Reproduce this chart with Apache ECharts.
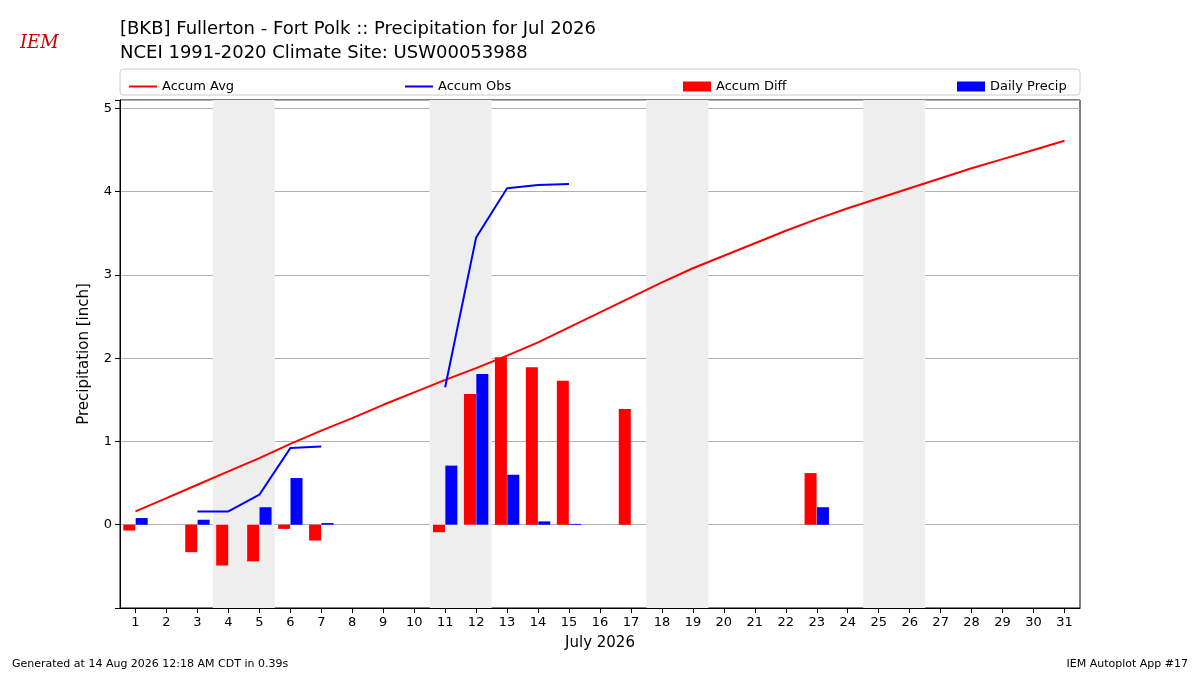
<!DOCTYPE html>
<html lang="en">
<head>
<meta charset="UTF-8">
<title>Precipitation</title>
<script src="https://cdn.jsdelivr.net/npm/echarts@6/dist/echarts.min.js"></script>
<style>body{margin:0;background:#fff}</style>
</head>
<body>
<div id="main" style="width:1200px;height:675px;"></div>
<script>
var days = [];
for (var i = 1; i <= 31; i++) days.push(i);
var accumAvg = [0.16,0.32,0.48,0.64,0.80,0.97,1.13,1.28,1.44,1.59,1.74,1.88,2.03,2.19,2.37,2.55,2.73,2.91,3.08,3.23,3.38,3.53,3.67,3.80,3.92,4.04,4.16,4.28,4.39,4.50,4.61];
var accumObs = [null,null,0.16,0.16,0.36,0.92,0.94,null,null,null,1.65,3.45,4.04,4.08,4.09];
var accumDiff = [-0.07,null,-0.33,-0.49,-0.44,-0.05,-0.19,null,null,null,-0.09,1.57,2.01,1.89,1.73,null,1.39,null,null,null,null,null,0.62];
var dailyPrecip = [0.08,null,0.06,null,0.21,0.56,0.02,null,null,null,0.71,1.81,0.60,0.04,0.01,null,null,null,null,null,null,null,0.21];
var weekends = [[3.5,5.5],[10.5,12.5],[17.5,19.5],[24.5,26.5]];

function pairs(arr, shift) {
    var out = [];
    arr.forEach(function (v, i) { if (v !== null) out.push([days[i] + shift, v]); });
    return out;
}
function linePairs(arr) {
    return arr.map(function (v, i) { return [days[i], v]; });
}

var chart = echarts.init(document.getElementById('main'));
var font = 'DejaVu Sans';
var lineIcon = 'path://M0,0 L28,0 L28,2 L0,2 Z';
function leg(name, left, icon) {
    return {data: [{name: name, icon: icon}], left: left, top: 75, itemWidth: 28, itemHeight: icon === 'rect' ? 10 : 2, itemGap: 6,
        textStyle: {fontFamily: font, fontSize: 13, color: '#000'}, selectedMode: false};
}
chart.setOption({
    animation: false,
    textStyle: {fontFamily: font},
    title: {text: '[BKB] Fullerton - Fort Polk :: Precipitation for Jul 2026\nNCEI 1991-2020 Climate Site: USW00053988',
        left: 115, top: 12, textStyle: {fontFamily: font, fontSize: 18, fontWeight: 'normal', color: '#000', lineHeight: 24}},
    legend: [leg('Accum Avg', 124, lineIcon), leg('Accum Obs', 400, lineIcon), leg('Accum Diff', 678, 'rect'), leg('Daily Precip', 952, 'rect')],
    graphic: [
        {type: 'rect', shape: {x: 120, y: 69, width: 960, height: 26, r: 3}, style: {fill: 'none', stroke: '#ccc'}},
        {type: 'text', left: 20, top: 34, style: {text: 'IEM', font: 'italic 18px "DejaVu Serif"', fill: '#c00'}},
        {type: 'text', left: 12, top: 659, style: {text: 'Generated at 14 Aug 2026 12:18 AM CDT in 0.39s', font: '11px "DejaVu Sans"', fill: '#000'}},
        {type: 'text', right: 12, top: 659, style: {text: 'IEM Autoplot App #17', font: '11px "DejaVu Sans"', fill: '#000'}}
    ],
    grid: {left: 120, right: 120, top: 100, bottom: 67, show: true, borderColor: '#000', borderWidth: 1},
    xAxis: {type: 'value', min: 0.5, max: 31.5,
        name: 'July 2026', nameLocation: 'middle', nameGap: 28, nameTextStyle: {fontSize: 15, color: '#000'},
        axisLine: {onZero: false, lineStyle: {color: '#000'}},
        axisTick: {customValues: days, lineStyle: {color: '#000'}},
        axisLabel: {customValues: days, color: '#000', fontSize: 13},
        splitLine: {show: false}},
    yAxis: {type: 'value', min: -1, max: 5.1, interval: 1,
        name: 'Precipitation [inch]', nameLocation: 'middle', nameGap: 28, nameTextStyle: {fontSize: 15, color: '#000'},
        axisLine: {show: true, lineStyle: {color: '#000'}}, axisTick: {show: true, lineStyle: {color: '#000'}},
        axisLabel: {color: '#000', fontSize: 13, formatter: function (v) { return v < 0 || v > 5 ? '' : v; }},
        splitLine: {lineStyle: {color: '#b0b0b0'}}},
    series: [
        {name: 'Accum Avg', type: 'line', symbol: 'none', data: linePairs(accumAvg), lineStyle: {color: '#f00', width: 2}, itemStyle: {color: '#f00'},
            markArea: {silent: true, itemStyle: {color: '#eeeeee'}, data: weekends.map(function (w) { return [{xAxis: w[0]}, {xAxis: w[1]}]; })}},
        {name: 'Accum Obs', type: 'line', symbol: 'none', data: linePairs(accumObs), connectNulls: false, lineStyle: {color: '#00f', width: 2}, itemStyle: {color: '#00f'}},
        {name: 'Accum Diff', type: 'bar', data: pairs(accumDiff, -0.2), barWidth: 12, barGap: '-100%', itemStyle: {color: '#f00'}},
        {name: 'Daily Precip', type: 'bar', data: pairs(dailyPrecip, 0.2), barWidth: 12, barGap: '-100%', itemStyle: {color: '#00f'}}
    ]
});
</script>
</body>
</html>
